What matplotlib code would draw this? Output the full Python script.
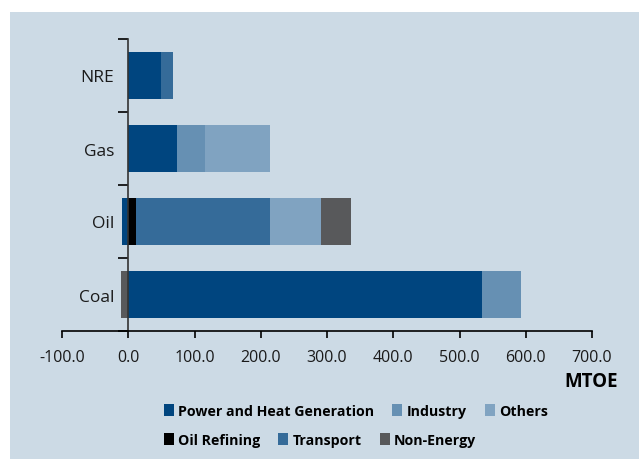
import matplotlib
matplotlib.use("Agg")
import matplotlib.pyplot as plt
from matplotlib.patches import Rectangle
import numpy as np

plt.rcParams['font.family'] = ['Open Sans', 'DejaVu Sans']

# data (MTOE)
fuels = ['Coal', 'Oil', 'Gas', 'NRE']
sectors = ['Power and Heat Generation', 'Oil Refining', 'Industry', 'Transport', 'Others', 'Non-Energy']
power = [534, -9, 74, 50]
refining = [0, 11, 0, 0]
industry = [59, 0, 42, 0]
transport = [0, 203, 0, 17]
others = [0, 77, 98, 0]
non_energy = [-11, 45, 0, 0]
colors = ['#00457f', '#000000', '#6690b3', '#356b99', '#80a3c1', '#58595b']

series = [power, refining, industry, transport, others, non_energy]

fig = plt.figure(figsize=(6.39, 4.60), dpi=100)
fig.patches.append(Rectangle((10/639, 0), 1, 1 - 13/460, transform=fig.transFigure,
                             facecolor='#ccdae5', edgecolor='none', zorder=-5))
ax = fig.add_axes([62/639, 1 - 332/460, 530/639, 292/460])
ax.set_facecolor('none')

y = np.arange(len(fuels))
pos = np.zeros(len(fuels))
neg = np.zeros(len(fuels))
handles = {}
for name, vals, c in zip(sectors, series, colors):
    vals = np.array(vals, dtype=float)
    left = np.where(vals >= 0, pos, neg)
    handles[name] = ax.barh(y, vals, left=left, height=0.64, color=c, label=name, zorder=2)
    pos = pos + np.where(vals >= 0, vals, 0)
    neg = neg + np.where(vals < 0, vals, 0)

ax.set_xlim(-100, 700)
ax.set_ylim(-0.5, 3.5)
ax.spines['left'].set_position(('data', 0))
ax.spines['top'].set_visible(False)
ax.spines['right'].set_visible(False)
for s in ['left', 'bottom']:
    ax.spines[s].set_linewidth(1.2)
ax.spines['left'].set_color('#333333')

ax.set_xticks(np.arange(-100, 701, 100))
ax.set_yticks(y)
ax.set_yticks(np.arange(-0.5, 3.6, 1), minor=True)
ax.tick_params(axis='y', which='major', length=0, pad=10, labelsize=12.5, labelcolor='#1a1a1a')
ax.tick_params(axis='y', which='minor', length=7, width=1.2, direction='out')
ax.tick_params(axis='x', length=5, width=1.2, direction='out', pad=8, labelsize=11.5, labelcolor='#1a1a1a')
ax.set_xticklabels(['%.1f' % v for v in np.arange(-100, 701, 100)])
ax.set_yticklabels(fuels)

fig.text(618/639, 1 - 382/460, 'MTOE', ha='right', va='center', fontsize=13.5, fontweight='bold')

rows = [['Power and Heat Generation', 'Industry', 'Others'],
        ['Oil Refining', 'Transport', 'Non-Energy']]
for i, row in enumerate(rows):
    leg = fig.legend([handles[n] for n in row], row, loc='center left',
                     bbox_to_anchor=(158/639, 1 - (412 + 29 * i)/460), ncol=3, frameon=False,
                     prop={'weight': 'bold', 'size': 10.2}, handlelength=0.7, handleheight=0.9,
                     handletextpad=0.3, columnspacing=1.3, borderaxespad=0)

fig.savefig('out.png', dpi=100, facecolor='white')
